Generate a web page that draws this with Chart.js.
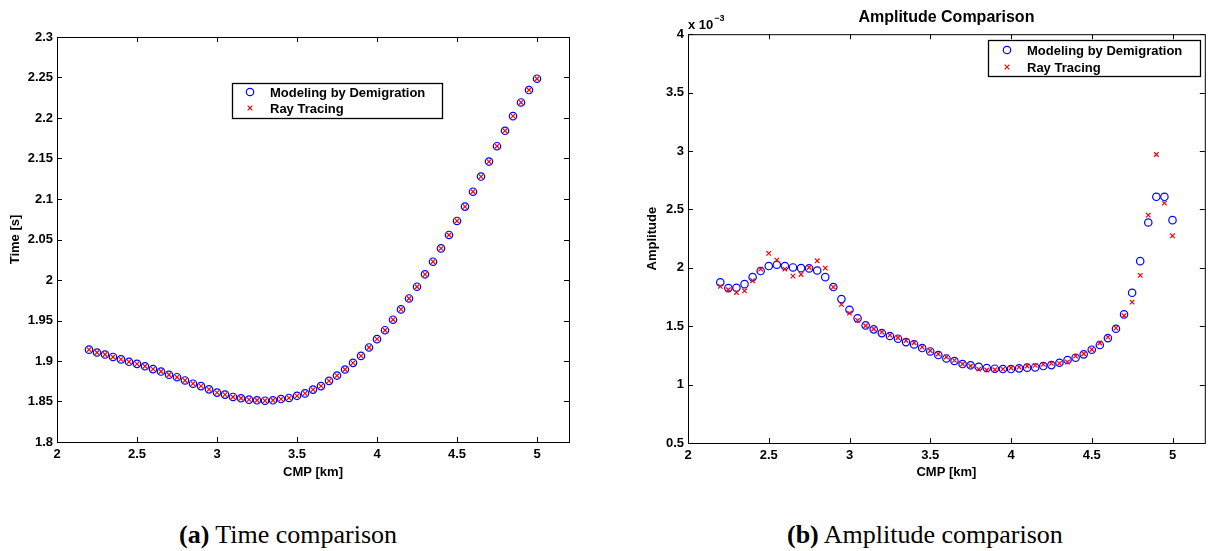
<!DOCTYPE html>
<html>
<head>
<meta charset="utf-8">
<title>Time and amplitude comparison</title>
<script src="https://cdn.jsdelivr.net/npm/chart.js@4.4.1/dist/chart.umd.min.js"></script>
<style>
  html, body { margin: 0; padding: 0; background: #fff; }
  body { width: 1210px; height: 551px; position: relative; overflow: hidden; }
  canvas { position: absolute; top: 0; }
  .caption {
    position: absolute; top: 522px; line-height: 26px;
    font-family: 'Liberation Serif', 'Times New Roman', serif;
    font-size: 26px; color: #000; white-space: nowrap;
  }
</style>
</head>
<body>
<canvas id="time-chart" width="600" height="490" style="left:0"></canvas>
<canvas id="amp-chart" width="610" height="490" style="left:600px"></canvas>
<div class="caption" style="left:179px"><b>(a)</b> Time comparison</div>
<div class="caption" style="left:787px"><b>(b)</b> Amplitude comparison</div>

<script>
// ── Data ──────────────────────────────────────────────────────────────────────
const cmpKm = [
  2.2, 2.25, 2.3, 2.35, 2.4, 2.45, 2.5, 2.55, 2.6, 2.65,
  2.7, 2.75, 2.8, 2.85, 2.9, 2.95, 3.0, 3.05, 3.1, 3.15,
  3.2, 3.25, 3.3, 3.35, 3.4, 3.45, 3.5, 3.55, 3.6, 3.65,
  3.7, 3.75, 3.8, 3.85, 3.9, 3.95, 4.0, 4.05, 4.1, 4.15,
  4.2, 4.25, 4.3, 4.35, 4.4, 4.45, 4.5, 4.55, 4.6, 4.65,
  4.7, 4.75, 4.8, 4.85, 4.9, 4.95, 5.0
];

// travel time [s]
const timeDemig = [
  1.914, 1.9105, 1.908, 1.905, 1.902, 1.899, 1.8965, 1.8935, 1.890, 1.887,
  1.883, 1.880, 1.876, 1.872, 1.869, 1.865, 1.861, 1.8585, 1.8556, 1.854,
  1.8523, 1.8515, 1.851, 1.8515, 1.853, 1.8544, 1.857, 1.860, 1.8647, 1.869,
  1.8755, 1.882, 1.8895, 1.8977, 1.9063, 1.9167, 1.927, 1.938, 1.951, 1.9637,
  1.9772, 1.9917, 2.007, 2.0226, 2.039, 2.0556, 2.0729, 2.0906, 2.109, 2.1277,
  2.1462, 2.1652, 2.1842, 2.2023, 2.2192, 2.2345, 2.2485
];
const timeRay = [
  1.914, 1.9105, 1.908, 1.905, 1.902, 1.899, 1.8965, 1.8935, 1.890, 1.887,
  1.883, 1.880, 1.876, 1.872, 1.869, 1.865, 1.861, 1.8585, 1.8556, 1.854,
  1.8523, 1.8515, 1.851, 1.8515, 1.853, 1.8544, 1.857, 1.860, 1.8647, 1.869,
  1.8755, 1.882, 1.8895, 1.8977, 1.9063, 1.9167, 1.927, 1.938, 1.951, 1.9637,
  1.9772, 1.9917, 2.007, 2.0226, 2.039, 2.0556, 2.0729, 2.0906, 2.109, 2.1277,
  2.1462, 2.1652, 2.1842, 2.2023, 2.2192, 2.2345, 2.2485
];

// amplitude, in units of 1e-3
const ampDemig = [
  1.875, 1.826, 1.829, 1.86, 1.92, 1.972, 2.015, 2.026, 2.015, 2.003,
  1.997, 1.995, 1.977, 1.92, 1.835, 1.732, 1.641, 1.567, 1.507, 1.473,
  1.441, 1.416, 1.393, 1.364, 1.344, 1.313, 1.284, 1.253, 1.224, 1.202,
  1.176, 1.165, 1.153, 1.142, 1.136, 1.133, 1.133, 1.139, 1.145, 1.147,
  1.159, 1.167, 1.187, 1.21, 1.23, 1.259, 1.299, 1.339, 1.398, 1.478,
  1.601, 1.786, 2.057, 2.388, 2.608, 2.608, 2.408
];
const ampRay = [
  1.841, 1.812, 1.789, 1.803, 1.889, 1.989, 2.123, 2.066, 1.989, 1.929,
  1.943, 2.003, 2.06, 1.997, 1.835, 1.687, 1.612, 1.55, 1.504, 1.476,
  1.45, 1.424, 1.401, 1.378, 1.358, 1.321, 1.29, 1.262, 1.236, 1.207,
  1.176, 1.159, 1.133, 1.125, 1.127, 1.133, 1.142, 1.15, 1.159, 1.165,
  1.173, 1.182, 1.182, 1.193, 1.244, 1.264, 1.301, 1.356, 1.407, 1.484,
  1.59, 1.706, 1.935, 2.451, 2.97, 2.554, 2.274
];

const cmpTicks  = [2, 2.5, 3, 3.5, 4, 4.5, 5];
const timeTicks = [1.8, 1.85, 1.9, 1.95, 2, 2.05, 2.1, 2.15, 2.2, 2.25, 2.3];
const ampTicks  = [0.5, 1, 1.5, 2, 2.5, 3, 3.5, 4];

const SERIES_NAMES = ['Modeling by Demigration', 'Ray Tracing'];
const BLUE = '#0000ff';
const RED = '#ff0000';
const FONT = "'Liberation Sans', Arial, Helvetica, sans-serif";

// ── MATLAB-ish frame: box, inward ticks, boxed legend ─────────────────────────
const matlabFrame = {
  id: 'matlabFrame',
  afterDraw(chart, args, opts) {
    const { ctx, chartArea: a, scales } = chart;
    const TICK = 5;
    ctx.save();
    ctx.strokeStyle = '#000';
    ctx.lineWidth = 1;
    ctx.strokeRect(a.left + 0.5, a.top + 0.5, a.right - a.left, a.bottom - a.top);

    ctx.beginPath();
    for (const t of scales.x.ticks) {
      const px = Math.round(scales.x.getPixelForValue(t.value)) + 0.5;
      ctx.moveTo(px, a.bottom); ctx.lineTo(px, a.bottom - TICK);
      ctx.moveTo(px, a.top);    ctx.lineTo(px, a.top + TICK);
    }
    for (const t of scales.y.ticks) {
      const py = Math.round(scales.y.getPixelForValue(t.value)) + 0.5;
      ctx.moveTo(a.left, py);  ctx.lineTo(a.left + TICK, py);
      ctx.moveTo(a.right, py); ctx.lineTo(a.right - TICK, py);
    }
    ctx.stroke();

    // legend box
    const lg = opts.legend;
    ctx.fillStyle = '#fff';
    ctx.fillRect(lg.x, lg.y, lg.w, lg.h);
    ctx.lineWidth = 1.3;
    ctx.strokeRect(lg.x + 0.5, lg.y + 0.5, lg.w, lg.h);

    ctx.lineWidth = 1.2;
    ctx.strokeStyle = BLUE;
    ctx.beginPath();
    ctx.arc(lg.markerX, lg.rows[0], 3.7, 0, Math.PI * 2);
    ctx.stroke();
    ctx.strokeStyle = RED;
    ctx.beginPath();
    const c = 2.3;
    ctx.moveTo(lg.markerX - c, lg.rows[1] - c); ctx.lineTo(lg.markerX + c, lg.rows[1] + c);
    ctx.moveTo(lg.markerX - c, lg.rows[1] + c); ctx.lineTo(lg.markerX + c, lg.rows[1] - c);
    ctx.stroke();

    ctx.fillStyle = '#000';
    ctx.font = `bold 13px ${FONT}`;
    ctx.textBaseline = 'middle';
    ctx.textAlign = 'left';
    SERIES_NAMES.forEach((name, i) => ctx.fillText(name, lg.textX, lg.rows[i] + 1));

    // axis multiplier ("x 10^-3")
    if (opts.exponent) {
      ctx.textBaseline = 'alphabetic';
      ctx.font = `bold 13px ${FONT}`;
      const base = 'x 10';
      ctx.fillText(base, a.left, a.top - 5);
      const w = ctx.measureText(base).width;
      ctx.font = `bold 9px ${FONT}`;
      ctx.fillText(opts.exponent, a.left + w + 1, a.top - 13);
    }
    ctx.restore();
  }
};

// ── Helpers ───────────────────────────────────────────────────────────────────
function pairs(ys) {
  return cmpKm.map((x, i) => ({ x, y: ys[i] }));
}

function makeDatasets(demig, ray) {
  return [
    {
      label: SERIES_NAMES[0],
      data: pairs(demig),
      pointStyle: 'circle',
      pointRadius: 3.7,
      pointBorderWidth: 1.2,
      pointBorderColor: BLUE,
      pointBackgroundColor: 'rgba(0,0,0,0)',
      borderColor: BLUE,
      showLine: false,
      order: 2,
    },
    {
      label: SERIES_NAMES[1],
      data: pairs(ray),
      pointStyle: 'crossRot',
      pointRadius: 3.2,
      pointBorderWidth: 1.2,
      pointBorderColor: RED,
      pointBackgroundColor: RED,
      borderColor: RED,
      showLine: false,
      order: 1,
    },
  ];
}

const fmt = (v) => String(+(+v).toFixed(2));

function makeOptions(cfg) {
  return {
    responsive: false,
    animation: false,
    events: [],
    layout: { padding: cfg.padding },
    plugins: {
      legend: { display: false },
      tooltip: { enabled: false },
      title: cfg.title ? {
        display: true,
        text: cfg.title,
        fullSize: false,
        color: '#000',
        font: { family: FONT, size: 16, weight: 'bold' },
        padding: { top: 8, bottom: 7 },
      } : { display: false },
      matlabFrame: { legend: cfg.legend, exponent: cfg.exponent },
    },
    scales: {
      x: {
        type: 'linear',
        min: 2,
        max: 5.2,
        afterBuildTicks: (s) => { s.ticks = cmpTicks.map(value => ({ value })); },
        afterFit: (s) => { s.height = cfg.xAxisHeight; },
        grid: { display: false, drawTicks: false },
        border: { display: false },
        ticks: {
          callback: fmt, padding: 5, color: '#000', maxRotation: 0, autoSkip: false,
          font: { family: FONT, size: 13, weight: 'bold' },
        },
        title: {
          display: true, text: 'CMP [km]', color: '#000',
          font: { family: FONT, size: 13, weight: 'bold' },
          padding: { top: 0, bottom: cfg.xTitlePad },
        },
      },
      y: {
        type: 'linear',
        min: cfg.yMin,
        max: cfg.yMax,
        afterBuildTicks: (s) => { s.ticks = cfg.yTicks.map(value => ({ value })); },
        afterFit: (s) => { s.width = cfg.yAxisWidth; },
        grid: { display: false, drawTicks: false },
        border: { display: false },
        ticks: {
          callback: fmt, padding: 4, color: '#000', autoSkip: false,
          font: { family: FONT, size: 13, weight: 'bold' },
        },
        title: {
          display: true, text: cfg.yTitle, color: '#000',
          font: { family: FONT, size: 13, weight: 'bold' },
          padding: { top: cfg.yTitlePad, bottom: 0 },
        },
      },
    },
  };
}

// ── Charts ────────────────────────────────────────────────────────────────────
new Chart(document.getElementById('time-chart'), {
  type: 'scatter',
  data: { datasets: makeDatasets(timeDemig, timeRay) },
  plugins: [matlabFrame],
  options: makeOptions({
    padding: { top: 37, right: 31, bottom: 0, left: 0 },
    yAxisWidth: 57,
    xAxisHeight: 48,
    xTitlePad: 10,
    yTitlePad: 8,
    yMin: 1.8, yMax: 2.3, yTicks: timeTicks,
    yTitle: 'Time [s]',
    legend: { x: 232, y: 83, w: 210, h: 35, markerX: 250, textX: 270, rows: [92, 108] },
  }),
});

new Chart(document.getElementById('amp-chart'), {
  type: 'scatter',
  data: { datasets: makeDatasets(ampDemig, ampRay) },
  plugins: [matlabFrame],
  options: makeOptions({
    padding: { top: 0, right: 2, bottom: 0, left: 0 },
    title: 'Amplitude Comparison',
    exponent: '\u22123',
    yAxisWidth: 88,
    xAxisHeight: 47,
    xTitlePad: 10,
    yTitlePad: 45,
    yMin: 0.5, yMax: 4, yTicks: ampTicks,
    yTitle: 'Amplitude',
    legend: { x: 388, y: 40, w: 212, h: 36, markerX: 407, textX: 427, rows: [50, 67] },
  }),
});
</script>
</body>
</html>
